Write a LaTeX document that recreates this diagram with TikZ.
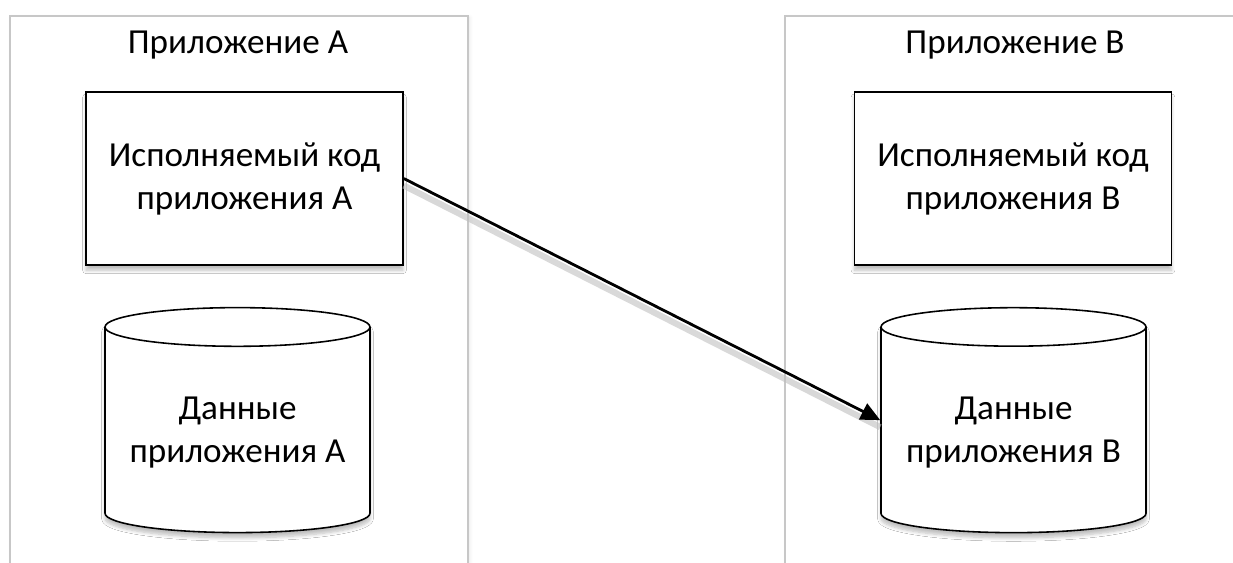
\documentclass[tikz,border=0pt]{standalone}
\usepackage{fontspec}
\setmainfont{Carlito}
\usetikzlibrary{arrows.meta,shapes.geometric,shadows.blur}
\begin{document}
\begin{tikzpicture}[x=0.02cm,y=-0.02cm,line width=0.9pt,>=Triangle,
  txt/.style={font=\fontsize{20}{24.5}\selectfont,align=center},
  frame/.style={draw=black!22,fill=white,line width=1pt,anchor=north west,inner sep=0pt,
    minimum height=13cm,minimum width=#1,
    blur shadow={shadow xshift=1pt,shadow yshift=-1pt,shadow blur steps=4,shadow opacity=10}},
  prog/.style={txt,draw,fill=white,minimum width=6.34cm,minimum height=3.46cm,
    blur shadow={shadow xshift=0pt,shadow yshift=-3pt,shadow blur steps=6,shadow opacity=25}},
  db/.style={txt,cylinder,shape border rotate=90,aspect=0.17,draw,fill=white,
    minimum width=5.3cm,minimum height=4.5cm,
    blur shadow={shadow xshift=0pt,shadow yshift=-3pt,shadow blur steps=6,shadow opacity=25}}]
\useasboundingbox (0,0) rectangle (1233,562);
\clip (0,0) rectangle (1233,562);
% ---------- Приложение A ----------
\node[frame=9.16cm] (appA) at (9,15) {};
\node[txt] (titleA) at (238,45) {Приложение A};
\node[prog] (codeA) at (244.5,178.5) {Исполняемый код\\приложения A};
\node[db] (dataA) at (237.5,433) {Данные\\приложения A};
% ---------- Приложение B ----------
\node[frame=9.24cm] (appB) at (784,15) {};
\node[txt] (titleB) at (1015,45) {Приложение B};
\node[prog] (codeB) at (1013,178.5) {Исполняемый код\\приложения B};
\node[db] (dataB) at (1013.5,433) {Данные\\приложения B};
% связь: код A -> данные B (с тенью)
\draw[black!25,line width=3.5pt,opacity=0.6,transform canvas={yshift=-4pt}] (codeA.east) -- (dataB.shape center -| dataB.west);
\draw[->,line width=1.6pt,-{Triangle[length=11pt,width=10pt]}] (codeA.east) -- (dataB.shape center -| dataB.west);
\end{tikzpicture}
\end{document}
